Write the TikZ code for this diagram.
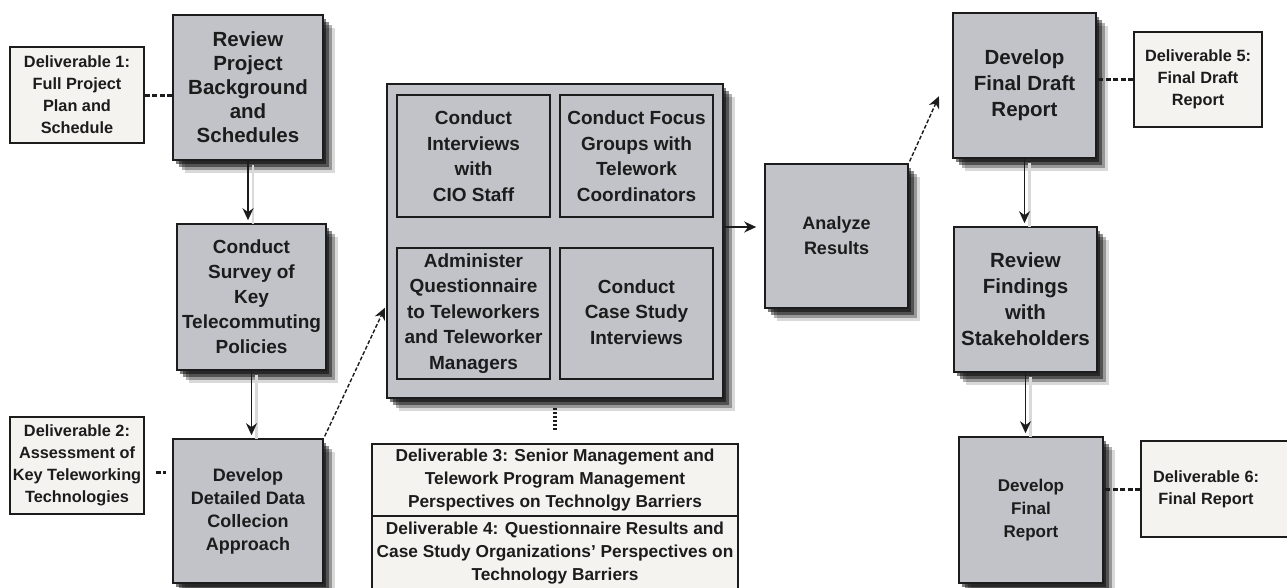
\documentclass[tikz,border=0pt]{standalone}
\usepackage{fontspec}
\setmainfont{Liberation Sans}
\usetikzlibrary{arrows.meta,shadows,calc}

\definecolor{boxgrey}{RGB}{193,195,201}
\definecolor{paper}{RGB}{245,243,240}
\definecolor{ink}{RGB}{28,28,28}

\tikzset{
  fs/.style 2 args={font=\fontsize{#1}{#2}\selectfont\bfseries},
  softshadow/.style={
    general shadow={fill=black,opacity=.15,shadow xshift=12pt,shadow yshift=-13pt},
    general shadow={fill=black,opacity=.30,shadow xshift=9pt,shadow yshift=-10pt},
    general shadow={fill=black,opacity=.45,shadow xshift=6pt,shadow yshift=-7pt},
    general shadow={fill=black,opacity=.50,shadow xshift=3pt,shadow yshift=-4pt}},
  task/.style={draw=ink, line width=1.6pt, fill=boxgrey, text=ink, align=center,
    inner sep=0pt, softshadow},
  subtask/.style={draw=ink, line width=1.4pt, fill=boxgrey, text=ink, align=center,
    inner sep=0pt, fs={19}{25.5}, minimum width=153pt},
  deliv/.style={draw=ink, line width=1.3pt, fill=paper, text=ink, align=center,
    inner sep=0pt, fs={16.3}{22}},
  flow/.style={draw=ink, line width=1.4pt, -{Stealth[length=12pt,width=11pt]},
    shorten >=3pt},
  vflow/.style={flow, preaction={draw=black!15, line width=2.5pt, arrows=-,
    transform canvas={xshift=5pt,yshift=-4pt}}},
  dflow/.style={flow, dash pattern=on 4pt off 2pt},
  delivlink/.style={draw=ink, line width=3pt, dash pattern=on 5pt off 2.5pt},
  dotlink/.style={draw=ink, line width=3.8pt, dash pattern=on 2.5pt off 1.5pt},
}

\begin{document}
\begin{tikzpicture}[x=1pt,y=-1pt]
  \useasboundingbox[fill=white] (0,0) rectangle (1287,587);

  % left column of tasks
  \node[task, fs={20.5}{24}, minimum width=150pt, minimum height=145pt] (review)
    at (248,87.5) {Review\\Project\\Background\\and\\Schedules};
  \node[task, fs={19}{25}, minimum width=149pt, minimum height=146pt] (survey)
    at (251.5,297) {Conduct\\Survey of\\Key\\Telecommuting\\Policies};
  \node[task, fs={18}{23}, minimum width=150pt, minimum height=144pt] (develop)
    at (248,511) {Develop\\Detailed Data\\Collecion\\Approach};

  \node[deliv, minimum width=134pt, minimum height=96pt] (d1)
    at (77,95) {Deliverable 1:\\Full Project\\Plan and\\Schedule};
  \node[deliv, minimum width=134pt, minimum height=97pt] (d2)
    at (77,465.5) {Deliverable 2:\\Assessment of\\Key Teleworking\\Technologies};

  % data collection block
  \node[task, minimum width=336pt, minimum height=314pt] (cbox) at (555,241) {};
  \node[subtask, minimum height=122pt] (s1) at (473.5,156)
    {Conduct\\Interviews\\with\\CIO Staff};
  \node[subtask, minimum height=122pt] (s2) at (636.5,156)
    {Conduct Focus\\Groups with\\Telework\\Coordinators};
  \node[subtask, minimum height=131pt] (s3) at (473.5,313.5)
    {Administer\\Questionnaire\\to Teleworkers\\and Teleworker\\Managers};
  \node[subtask, minimum height=131pt] (s4) at (636.5,313.5)
    {\raisebox{6pt}{\begin{tabular}{@{}c@{}}Conduct\\Case Study\\Interviews\end{tabular}}};

  \node[deliv, fs={17.3}{23}, minimum width=366pt, minimum height=72pt] (d3)
    at (555,480) {Deliverable 3: Senior Management and\\Telework Program Management\\Perspectives on Technolgy Barriers};
  \node[deliv, fs={17.3}{23}, minimum width=366pt, minimum height=74pt] (d4)
    at (555,553) {Deliverable 4: Questionnaire Results and\\Case Study Organizations' Perspectives on\\Technology Barriers};

  % right part
  \node[task, fs={18}{25}, minimum width=143pt, minimum height=144pt] (analyze)
    at (836.5,236) {Analyze\\Results};
  \node[task, fs={20.5}{26}, minimum width=143pt, minimum height=145pt] (draft)
    at (1024.5,85.5) {Develop\\Final Draft\\Report};
  \node[task, fs={20.5}{26}, minimum width=143pt, minimum height=145pt] (findings)
    at (1025.5,299.5) {Review\\Findings\\with\\Stakeholders};
  \node[task, fs={17}{23}, minimum width=144pt, minimum height=146pt] (final)
    at (1031,510) {Develop\\Final\\Report};

  \node[deliv, minimum width=128pt, minimum height=95pt] (d5)
    at (1198,79.5) {Deliverable 5:\\Final Draft\\Report};
  \node[deliv, minimum width=159pt, minimum height=96pt] (d6)
    at (1220.5,489) {\begin{tabular}{@{}c@{}}Deliverable 6:\\Final Report\end{tabular}\hspace*{29pt}};

  % flow connectors
  \draw[vflow] (review.south) -- (review.south |- survey.north);
  \draw[vflow] (survey.south) -- (survey.south |- develop.north);
  \draw[dflow, shorten <=2pt] (develop.north east) -- ([yshift=-64pt]cbox.west);
  \coordinate (cout) at ([yshift=14pt]cbox.east);
  \draw[flow, shorten >=8pt] (cout) -- (cout -| analyze.west);
  \draw[dflow, shorten <=2pt] (analyze.north east) -- ([xshift=-12pt,yshift=-8pt]draft.west);
  \draw[vflow] (draft.south) -- (draft.south |- findings.north);
  \draw[vflow] (findings.south) -- (findings.south |- final.north);

  % deliverable links
  \draw[delivlink] (d1.east) -- (d1.east -| review.west);
  \draw[delivlink, shorten <=11pt, shorten >=6pt]
    ([yshift=-6.5pt]d2.east) -- ([yshift=-6.5pt]d2.east -| develop.west);
  \draw[dotlink, shorten <=9pt, shorten >=12pt] (cbox.south) -- (d3.north);
  \draw[delivlink] (d5.west) -- (d5.west -| draft.east);
  \draw[delivlink] (d6.west) -- (d6.west -| final.east);
\end{tikzpicture}
\end{document}
